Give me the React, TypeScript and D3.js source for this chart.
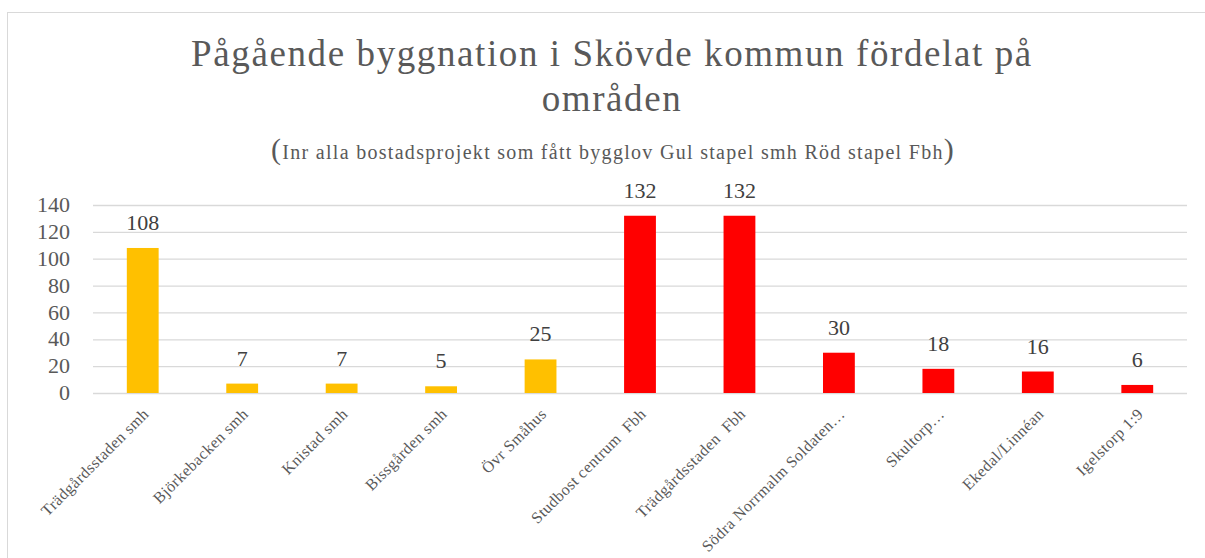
import React, { useEffect, useRef } from 'react';
import * as d3 from 'd3';

const categories = [
  'Trädgårdsstaden smh',
  'Björkebacken smh',
  'Knistad smh',
  'Bissgården smh',
  'Övr Småhus',
  'Studbost centrum  Fbh',
  'Trädgårdsstaden  Fbh',
  'Södra Norrmalm Soldaten…',
  'Skultorp…',
  'Ekedal/Linnéan',
  'Igelstorp 1:9',
];
const values = [108, 7, 7, 5, 25, 132, 132, 30, 18, 16, 6];
const types = ['smh', 'smh', 'smh', 'smh', 'smh', 'fbh', 'fbh', 'fbh', 'fbh', 'fbh', 'fbh'];
const yTicks = [0, 20, 40, 60, 80, 100, 120, 140];

const W = 1205;
const H = 558;
const FONT = '"Liberation Serif", "DejaVu Serif", serif';

const App = () => {
  const ref = useRef<SVGSVGElement>(null);

  useEffect(() => {
    const svg = d3.select(ref.current);
    svg.selectAll('*').remove();

    // chart frame
    svg.append('rect')
      .attr('x', 7.5).attr('y', 12.5)
      .attr('width', W).attr('height', H)
      .attr('fill', '#fff').attr('stroke', '#d9d9d9');

    // title (two lines, like the wrapped Excel title)
    const title = svg.append('text')
      .attr('text-anchor', 'middle')
      .attr('fill', '#595959')
      .style('font-family', FONT)
      .style('font-size', '37px')
      .style('letter-spacing', '1.6px');
    title.append('tspan').attr('x', 612).attr('y', 66).text('Pågående byggnation i Skövde kommun fördelat på');
    title.append('tspan').attr('x', 612).attr('y', 111).text('områden');

    const sub = svg.append('text')
      .attr('x', 613).attr('y', 159)
      .attr('text-anchor', 'middle')
      .attr('fill', '#595959')
      .style('font-family', FONT)
      .style('font-size', '20px')
      .style('letter-spacing', '1.3px');
    sub.append('tspan').style('font-size', '30px').text('(');
    sub.append('tspan').text('Inr alla bostadsprojekt som fått bygglov Gul stapel smh Röd stapel Fbh');
    sub.append('tspan').style('font-size', '30px').text(')');

    const x = d3.scaleBand().domain(categories).range([93, 1187])
      .paddingInner(0.68).paddingOuter(0.34);
    const y = d3.scaleLinear().domain([0, 140]).range([393, 205]);

    const yAxis = svg.append('g')
      .attr('transform', 'translate(93,0)')
      .call(d3.axisLeft(y).tickValues(yTicks).tickSize(-1094).tickPadding(23));
    yAxis.select('.domain').remove();
    yAxis.selectAll('.tick line').attr('stroke', '#d9d9d9').attr('stroke-width', 1.3);
    yAxis.selectAll('.tick text')
      .attr('fill', '#595959')
      .attr('dy', '0.3em')
      .style('font-family', FONT)
      .style('font-size', '22px');

    svg.selectAll('.bar')
      .data(values)
      .enter()
      .append('rect')
      .attr('class', 'bar')
      .attr('x', (d, i) => x(categories[i]) as number)
      .attr('y', d => y(d))
      .attr('width', x.bandwidth())
      .attr('height', d => y(0) - y(d))
      .attr('fill', (d, i) => (types[i] === 'smh' ? '#FFC000' : '#FF0000'));

    svg.selectAll('.label')
      .data(values)
      .enter()
      .append('text')
      .attr('class', 'label')
      .attr('x', (d, i) => (x(categories[i]) as number) + x.bandwidth() / 2)
      .attr('y', d => y(d) - 18)
      .attr('text-anchor', 'middle')
      .attr('fill', '#404040')
      .style('font-family', FONT)
      .style('font-size', '22px')
      .text(d => d);

    svg.selectAll('.xlabel')
      .data(categories)
      .enter()
      .append('text')
      .attr('class', 'xlabel')
      .attr('transform', d => `translate(${(x(d) as number) + x.bandwidth() / 2 + 7},${415}) rotate(-45)`)
      .attr('text-anchor', 'end')
      .attr('fill', '#595959')
      .style('font-family', FONT)
      .style('font-size', '16px')
      .style('letter-spacing', '0.45px')
      .style('white-space', 'pre')
      .text(d => d);
  }, []);

  return (
    <div style={{ position: 'fixed', left: 0, top: 0, width: W, height: H, background: '#fff' }}>
      <svg ref={ref} width={W} height={H} style={{ display: 'block' }}></svg>
    </div>
  );
};

export default App;
